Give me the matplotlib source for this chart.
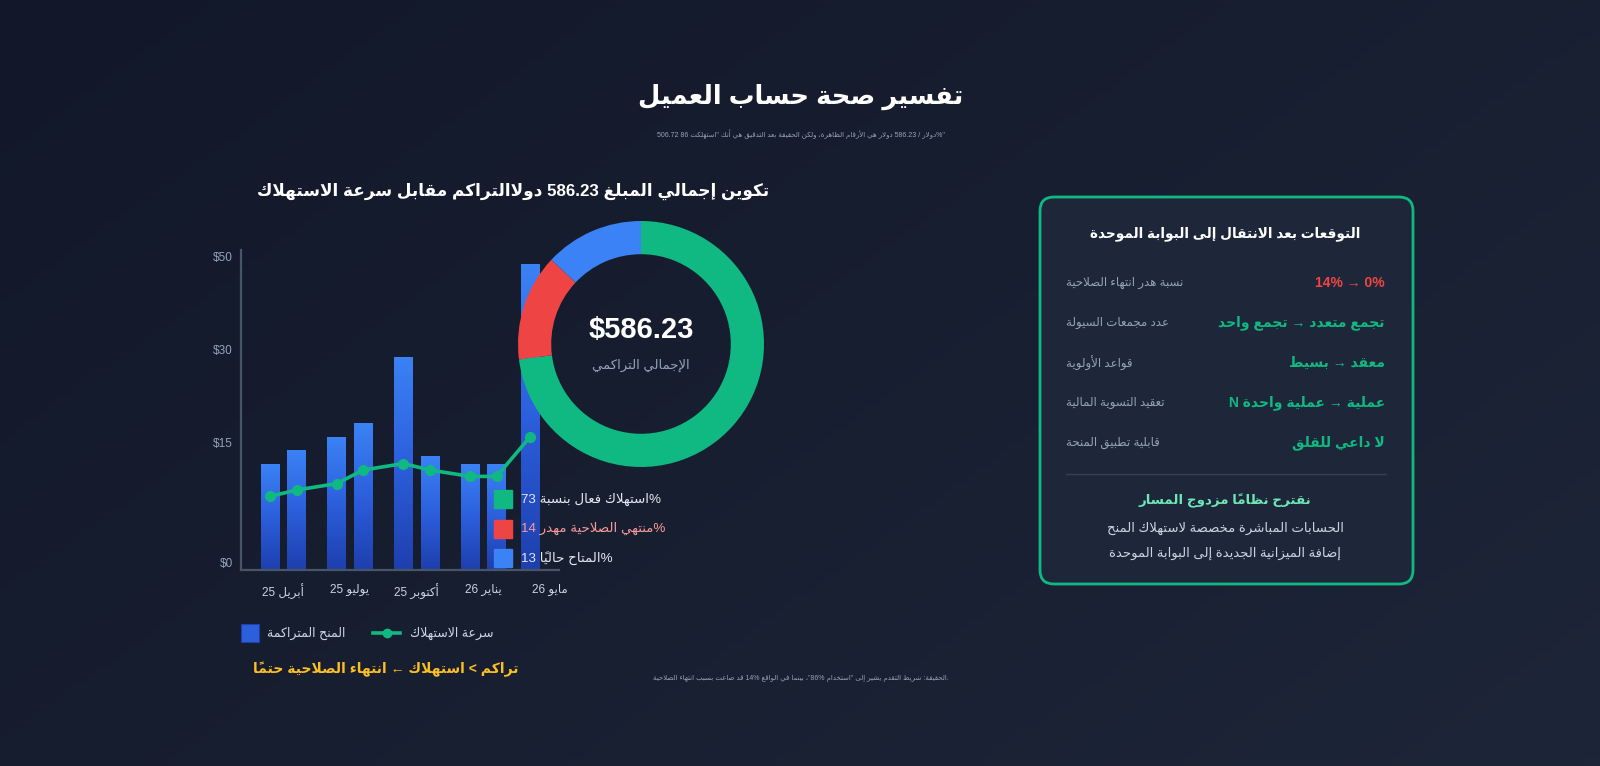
#!/usr/bin/env python3
import re
import unicodedata

import matplotlib
matplotlib.use("Agg")
import matplotlib.pyplot as plt
import numpy as np
from matplotlib.colors import LinearSegmentedColormap
from matplotlib.patches import FancyBboxPatch, Rectangle
from matplotlib.scale import FuncScale
from matplotlib.transforms import Bbox, BboxTransformTo, ScaledTranslation, TransformedBbox

W, H = 1600, 766

# ---- data -------------------------------------------------------------
PERIOD_LABELS = ["أبريل 25", "يوليو 25", "أكتوبر 25", "يناير 26", "مايو 26"]
BAR_PERIOD = [0, 0, 1, 1, 2, 2, 3, 3, 4]
GRANTS = [13.3, 15.0, 17.1, 19.3, 30.0, 14.2, 13.3, 13.3, 50.0]
BURN_RATE = [9.2, 10.0, 10.8, 12.5, 13.3, 12.5, 11.7, 11.7, 17.1]
Y_TICKS = [0, 15, 30, 50]
# the reference axis is not linear: tick value -> pixel height above the baseline
Y_KNOTS = [0, 15, 30, 50, 100]
Y_KNOT_PX = [0, 120, 213, 306, 539]

SHARE_LABELS = ["%استهلاك فعال بنسبة", "%منتهي الصلاحية مهدر", "%المتاح حالياً"]
SHARE_PCT = [73, 14, 13]
SHARE_COLORS = ["#10b981", "#ef4444", "#3b82f6"]
SHARE_TEXT_COLORS = ["#e2e8f0", "#f79a9a", "#e2e8f0"]
TOTAL = 586.23

PANEL_LABELS = ["نسبة هدر انتهاء الصلاحية", "عدد مجمعات السيولة", "قواعد الأولوية",
                "تعقيد التسوية المالية", "قابلية تطبيق المنحة"]
PANEL_VALUES = ["14% → 0%", "تجمع متعدد → تجمع واحد", "معقد → بسيط",
                "عملية → عملية واحدة N", "لا داعي للقلق"]
PANEL_VALUE_COLORS = ["#ef4444", "#10b981", "#10b981", "#10b981", "#10b981"]

# ---- minimal arabic shaping + right-to-left ordering --------------------
MARKS = set(range(0x064B, 0x0660)) | {0x0670}
ALEFS = "\u0627\u0622\u0623\u0625"


def _form(ch, kind):
    try:
        return unicodedata.lookup(f"{unicodedata.name(ch)} {kind} FORM")
    except (KeyError, ValueError):
        return None


def _joins_next(ch):
    return bool(ch) and _form(ch, "INITIAL") is not None


def _joins_prev(ch):
    return bool(ch) and _form(ch, "FINAL") is not None


def shape(s):
    clusters = []
    for ch in s:
        if ord(ch) in MARKS and clusters:
            clusters[-1][1] += ch
        else:
            clusters.append([ch, ""])
    out = []
    i = 0
    while i < len(clusters):
        ch, mk = clusters[i]
        prev = clusters[i - 1][0] if i > 0 else ""
        nxt = clusters[i + 1][0] if i + 1 < len(clusters) else ""
        jp = _joins_next(prev) and _joins_prev(ch)
        if ch == "\u0644" and nxt and nxt in ALEFS:
            lig = "ARABIC LIGATURE LAM WITH " + unicodedata.name(nxt)[len("ARABIC LETTER "):]
            g = unicodedata.lookup(lig + (" FINAL FORM" if jp else " ISOLATED FORM"))
            out.append(g + mk + clusters[i + 1][1])
            i += 2
            continue
        jn = _joins_next(ch) and _joins_prev(nxt)
        kind = "MEDIAL" if jp and jn else "FINAL" if jp else "INITIAL" if jn else "ISOLATED"
        out.append((_form(ch, kind) or ch) + mk)
        i += 1
    return out


LTR_RUN = r"[0-9A-Za-z$%.,/]+"


def rtl(s):
    units = []
    for m in re.finditer(LTR_RUN + r"|[^0-9A-Za-z$%.,/]+", s):
        tok = m.group()
        if re.fullmatch(LTR_RUN, tok):
            units.append(tok)
        else:
            units.extend(shape(tok))
    return "".join(reversed(units))


# ---- figure -------------------------------------------------------------
plt.rcParams["font.family"] = ["Liberation Sans", "DejaVu Sans"]

fig = plt.figure(figsize=(W / 100, H / 100), dpi=100)

bg = fig.add_axes([0, 0, 1, 1], zorder=0)
gx, gy = np.meshgrid(np.linspace(0, 1, 200), np.linspace(0, 1, 100))
bg_cmap = LinearSegmentedColormap.from_list("bg", ["#121829", "#1d2538"])
bg.imshow(0.6 * gx + 0.4 * gy, cmap=bg_cmap, extent=(0, W, H, 0), aspect="auto")
bg.set_xlim(0, W)
bg.set_ylim(H, 0)
bg.axis("off")

# bar + line chart
ax = fig.add_axes([241 / W, 1 - 570 / H, 318 / W, 320 / H], zorder=1)
ax.set_facecolor("none")
ax.set_yscale(FuncScale(ax.yaxis, (lambda v: np.interp(v, Y_KNOTS, Y_KNOT_PX),
                                   lambda p: np.interp(p, Y_KNOT_PX, Y_KNOTS))))

period = np.array(BAR_PERIOD)
group_size = np.bincount(period)[period]
slot = np.array([list(BAR_PERIOD[:k]).count(p) for k, p in enumerate(BAR_PERIOD)])
x = np.where(group_size > 1, period - 0.2 + 0.4 * slot, period - 0.3)
bar_w = 0.285
bar_cmap = LinearSegmentedColormap.from_list("bar", ["#1e3fae", "#2c5fdc", "#3b82f6"])
grad = np.linspace(0, 1, 128).reshape(-1, 1)
bars = ax.bar(x, GRANTS, width=bar_w, color="#2c5fdc", edgecolor="none", zorder=2)
for rect, xi, v in zip(bars, x, GRANTS):
    box = TransformedBbox(Bbox([[xi - bar_w / 2, 0], [xi + bar_w / 2, v]]), ax.transData)
    im = ax.imshow(grad, cmap=bar_cmap, extent=(0, 1, 0, 1), origin="lower",
                   transform=BboxTransformTo(box), aspect="auto", zorder=2.1)
    im.set_clip_path(rect)

ax.plot(x, BURN_RATE, color="#10b981", lw=2.6, marker="o", ms=7, zorder=3)

ax.set_xlim(-0.635, 4.135)
ax.set_ylim(0, 53)
ax.set_xticks(range(len(PERIOD_LABELS)))
ax.set_xticklabels([rtl(t) for t in PERIOD_LABELS], color="#cbd5e1", fontsize=8.5)
ax.set_yticks(Y_TICKS)
ax.set_yticklabels([f"${t}" for t in Y_TICKS], color="#94a3b8", fontsize=8.5)
ax.tick_params(axis="x", length=0, pad=10)
ax.tick_params(axis="y", length=0, pad=6)
lift = ScaledTranslation(0, 0.07, fig.dpi_scale_trans)
for lbl in ax.get_yticklabels():
    lbl.set_transform(lbl.get_transform() + lift)
for side in ("top", "right"):
    ax.spines[side].set_visible(False)
for side in ("left", "bottom"):
    ax.spines[side].set_color("#475569")
    ax.spines[side].set_linewidth(1.6)

# donut
r_px = 123
dn = fig.add_axes([(641 - r_px) / W, 1 - (344 + r_px) / H, 2 * r_px / W, 2 * r_px / H], zorder=2)
dn.pie(SHARE_PCT, colors=SHARE_COLORS, startangle=90, counterclock=False, radius=1,
       wedgeprops=dict(width=0.27, edgecolor="none"))
dn.set_xlim(-1, 1)
dn.set_ylim(-1, 1)
dn.set_aspect("equal")
dn.axis("off")
dn.text(0, 0.11, f"${TOTAL:.2f}", ha="center", va="center", color="white",
        fontsize=21, fontweight="bold")
dn.text(0, -0.17, rtl("الإجمالي التراكمي"), ha="center", va="center", color="#94a3b8",
        fontsize=9.5)

# overlay in pixel coordinates
ov = fig.add_axes([0, 0, 1, 1], zorder=10)
ov.set_xlim(0, W)
ov.set_ylim(H, 0)
ov.axis("off")

ov.text(801, 97, rtl("تفسير صحة حساب العميل"), ha="center", va="center", color="white",
        fontsize=18.5, fontweight="bold")
ov.text(801, 134, rtl('"%دولار / 586.23 دولار هي الأرقام الظاهرة، ولكن الحقيقة بعد التدقيق هي أنك "استهلكت 86 506.72'),
        ha="center", va="center", color="#94a3b8", fontsize=5)

ov.text(513, 191, rtl(f"تكوين إجمالي المبلغ {TOTAL:.2f} دولاالتراكم مقابل سرعة الاستهلاك"),
        ha="center", va="center", color="white", fontsize=12.2, fontweight="bold")

# donut legend
for i, (lab, pct) in enumerate(zip(SHARE_LABELS, SHARE_PCT)):
    yc = 499 + 29.5 * i
    ov.add_patch(Rectangle((494, yc - 9), 18, 18, color=SHARE_COLORS[i]))
    ov.text(521, yc, f"{pct} " + rtl(lab), ha="left", va="center",
            color=SHARE_TEXT_COLORS[i], fontsize=9.6)

# chart legend
ov.add_patch(Rectangle((241, 624), 18, 18, facecolor="#2c5fdc", edgecolor="#1e3fae", lw=0.8))
ov.text(267, 633, rtl("المنح المتراكمة"), ha="left", va="center", color="#cbd5e1", fontsize=9)
ov.plot([373, 400], [633, 633], color="#10b981", lw=2.6)
ov.plot([386.5], [633], "o", color="#10b981", ms=6)
ov.text(410, 633, rtl("سرعة الاستهلاك"), ha="left", va="center", color="#cbd5e1", fontsize=9)

ov.text(253, 669, rtl("تراكم < استهلاك ← انتهاء الصلاحية حتماً"), ha="left", va="center",
        color="#fbbf24", fontsize=10, fontweight="bold")

ov.text(801, 679, rtl('.الحقيقة: شريط التقدم يشير إلى "استخدام 86%"، بينما في الواقع 14% قد ضاعت بسبب انتهاء الصلاحية'),
        ha="center", va="center", color="#94a3b8", fontsize=5)

# right panel
ov.add_patch(FancyBboxPatch((1040, 197), 373, 387, boxstyle="round,pad=0,rounding_size=14",
                            facecolor="#1e2739", edgecolor="#10b981", lw=2))
ov.text(1225, 234, rtl("التوقعات بعد الانتقال إلى البوابة الموحدة"), ha="center", va="center",
        color="white", fontsize=9.8, fontweight="bold")
for i, (lab, val) in enumerate(zip(PANEL_LABELS, PANEL_VALUES)):
    yc = 283 + 40 * i
    ov.text(1066, yc, rtl(lab), ha="left", va="center", color="#94a3b8", fontsize=8.5)
    shown = val if i == 0 else rtl(val)
    ov.text(1385, yc, shown, ha="right", va="center", color=PANEL_VALUE_COLORS[i],
            fontsize=10, fontweight="bold")
ov.plot([1066, 1386], [474, 474], color="#334155", lw=1)
ov.text(1225, 501, rtl("نقترح نظاماً مزدوج المسار"), ha="center", va="center",
        color="#6ee7b7", fontsize=9.6, fontweight="bold")
ov.text(1225, 528, rtl("الحسابات المباشرة مخصصة لاستهلاك المنح"), ha="center", va="center",
        color="#cbd5e1", fontsize=9.5)
ov.text(1225, 553, rtl("إضافة الميزانية الجديدة إلى البوابة الموحدة"), ha="center", va="center",
        color="#cbd5e1", fontsize=9.5)

fig.savefig("out.png", dpi=100)
